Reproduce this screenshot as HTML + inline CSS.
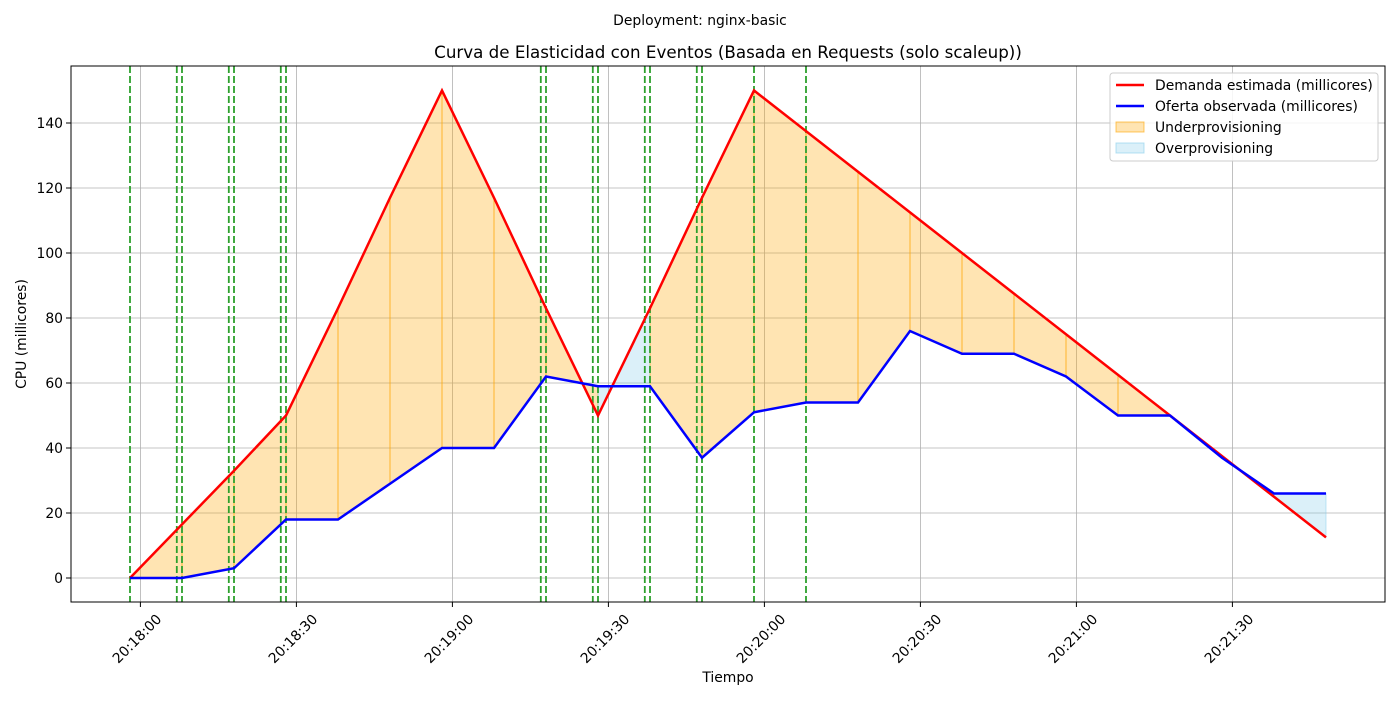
<!DOCTYPE html>
<html><head><meta charset="utf-8"><style>
body{margin:0;background:#fff;font-family:"Liberation Sans","DejaVu Sans",sans-serif}
svg text{font-family:"DejaVu Sans","Liberation Sans",sans-serif}
</style></head><body>
<svg id="c" width="1400" height="700" xmlns="http://www.w3.org/2000/svg"></svg>
<script>
const times = [0,10,20,30,40,50,60,70,80,90,100,110,120,130,140,150,160,170,180,190,200,210,220,230]; // seconds from 20:17:58
const demand = [0,16.5,33,50,83,117,150,117,83,50,83,117,150,137.5,125,112.5,100,87.5,75,62.5,50,37.5,25,12.5];
const supply = [0,0,3,18,18,29,40,40,62,59,59,37,51,54,54,76,69,69,62,50,50,37,26,26];
const events = [0,9,10,19,20,29,30,79,80,89,90,99,100,109,110,120,130];
const yTicks = [0,20,40,60,80,100,120,140];
const xTickSec = [2,32,62,92,122,152,182,212];
const xTickLabels = ["20:18:00","20:18:30","20:19:00","20:19:30","20:20:00","20:20:30","20:21:00","20:21:30"];

const L=71,R=1385,T=66,B=602;
const FS=13.9;
const X=s=>130+s*5.2;
const Y=v=>578-v*3.25;
const svg=document.getElementById('c');
const NS="http://www.w3.org/2000/svg";
function mk(tag,attrs,parent){const e=document.createElementNS(NS,tag);for(const k in attrs)e.setAttribute(k,attrs[k]);(parent||svg).appendChild(e);return e;}

// grid
xTickSec.forEach((s,i)=>{
  const g=mk('line',{x1:X(s),x2:X(s),y1:T,y2:B,stroke:'#b0b0b0','stroke-width':0.8});
  
  
  mk('line',{x1:X(s),x2:X(s),y1:B,y2:B+5,stroke:'#000'});
  const lb=mk('text',{x:0,y:0,'font-size':FS,'text-anchor':'end',transform:`translate(${X(s)+22},${B+18}) rotate(-45)`});
  lb.textContent=xTickLabels[i];
  
  
});
yTicks.forEach(v=>{
  const g=mk('line',{x1:L,x2:R,y1:Y(v),y2:Y(v),stroke:'#b0b0b0','stroke-width':0.8});
  
  
  mk('line',{x1:L-5,x2:L,y1:Y(v),y2:Y(v),stroke:'#000'});
  const lb=mk('text',{x:L-8,y:Y(v)+5,'font-size':FS,'text-anchor':'end'});
  lb.textContent=v;
  
  
});

// fills
for(let i=0;i<times.length-1;i++){
  const x1=X(times[i]),x2=X(times[i+1]);
  const pts=`${x1},${Y(demand[i])} ${x2},${Y(demand[i+1])} ${x2},${Y(supply[i+1])} ${x1},${Y(supply[i])}`;
  let col=null;
  if(supply[i]>demand[i]) col='rgba(135,206,235,0.3)';
  else if(demand[i]>supply[i]||demand[i+1]>supply[i+1]) col='rgba(255,165,0,0.3)';
  if(col){
    const p=mk('polygon',{points:pts,fill:col,stroke:col.replace('0.3','0.5'),'stroke-width':1});
    
    
  }
}

// events
events.forEach(s=>{
  const e=mk('line',{x1:X(s),x2:X(s),y1:T,y2:B,stroke:'#2ca02c','stroke-width':1.8,'stroke-dasharray':'7,3'});
  
  
});

// lines
const dl=mk('polyline',{points:times.map((s,i)=>X(s)+','+Y(demand[i])).join(' '),fill:'none',stroke:'#ff0000','stroke-width':2.5});


const sl=mk('polyline',{points:times.map((s,i)=>X(s)+','+Y(supply[i])).join(' '),fill:'none',stroke:'#0000ff','stroke-width':2.5});



// frame
mk('rect',{x:L,y:T,width:R-L,height:B-T,fill:'none',stroke:'#000','stroke-width':1});

// titles
function txt(x,y,s,size,name,extra){const t=mk('text',Object.assign({x:x,y:y,'font-size':size,'text-anchor':'middle'},extra||{}));t.textContent=s;return t;}
txt(700,25,'Deployment: nginx-basic',FS,'suptitle');
txt(728,58,'Curva de Elasticidad con Eventos (Basada en Requests (solo scaleup))',16.7,'chart-title');
txt(728,682,'Tiempo',FS,'x-axis-title');
txt(0,0,'CPU (millicores)',FS,'y-axis-title',{transform:'translate(26,334) rotate(-90)'});

// legend
const lg=mk('g',{});


mk('rect',{x:1110,y:73,width:268,height:88,rx:3,fill:'#fff','fill-opacity':0.85,stroke:'#ccc'},lg);
const items=[['line','#ff0000','Demanda estimada (millicores)'],['line','#0000ff','Oferta observada (millicores)'],['patch','rgba(255,165,0,0.3)','Underprovisioning'],['patch','rgba(135,206,235,0.3)','Overprovisioning']];
items.forEach((it,i)=>{
  const y=85+i*21;
  if(it[0]==='line') mk('line',{x1:1116,x2:1144,y1:y,y2:y,stroke:it[1],'stroke-width':2.5},lg);
  else mk('rect',{x:1116,y:y-5,width:28,height:10,fill:it[1],stroke:it[1].replace('0.3','0.6')},lg);
  const t=mk('text',{x:1155,y:y+5,'font-size':FS},lg);t.textContent=it[2];
  
  
});
</script>
</body></html>
